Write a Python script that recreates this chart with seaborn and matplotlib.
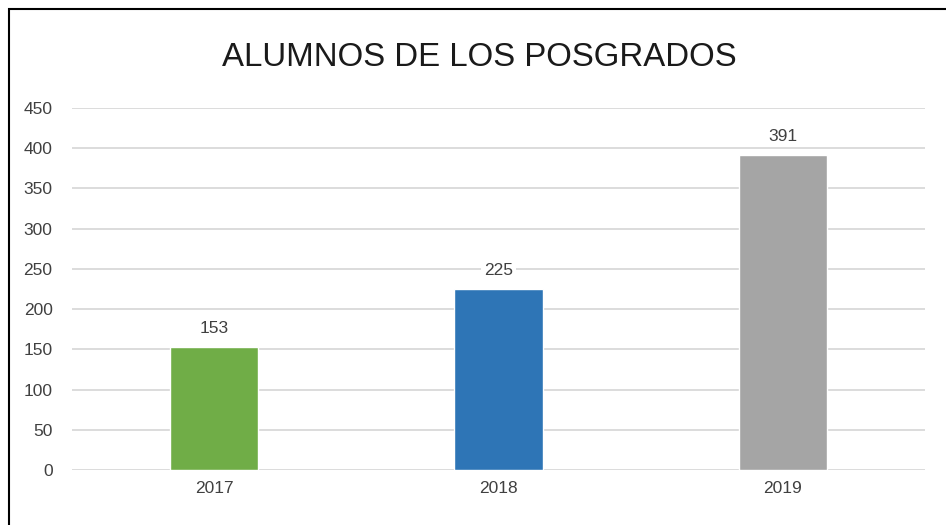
import numpy as np
import pandas as pd
import matplotlib
matplotlib.use('Agg')
import matplotlib.pyplot as plt
import seaborn as sns
from matplotlib.patches import Rectangle

# datos
anios = ['2017', '2018', '2019']
alumnos = [153, 225, 391]
colores = ['#70AD47', '#2E75B6', '#A5A5A5']
y_ticks = [0, 50, 100, 150, 200, 250, 300, 350, 400, 450]

df = pd.DataFrame({'anio': anios, 'alumnos': alumnos})

sns.set_theme(style='white')
plt.rcParams['font.family'] = ['Liberation Sans', 'DejaVu Sans']

fig = plt.figure(figsize=(9.46, 5.25), dpi=100)
ax = fig.add_axes([72 / 946, 55 / 525, (925 - 72) / 946, (470 - 108) / 525])

sns.barplot(data=df, x='anio', y='alumnos', hue='anio', palette=colores,
            width=0.31, legend=False, ax=ax, zorder=3, saturation=1)

ax.set_ylim(0, 450)
ax.set_yticks(y_ticks)
ax.yaxis.grid(True, color='#D9D9D9', linewidth=1.3, zorder=0)
ax.set_axisbelow(True)
for s in ax.spines.values():
    s.set_visible(False)
ax.tick_params(axis='both', length=0, labelsize=12.5, colors='#404040', pad=14)
ax.tick_params(axis='x', pad=8)
ax.set_xlabel('')
ax.set_ylabel('')

# etiquetas de datos
for i, v in enumerate(alumnos):
    ax.text(i, v + 14, str(v), ha='center', va='bottom', fontsize=12.5,
            color='#404040', zorder=4,
            bbox=dict(facecolor='white', edgecolor='none', pad=2))

fig.text(479.5 / 946, 1 - 57 / 525, 'ALUMNOS DE LOS POSGRADOS', ha='center', va='center',
         fontsize=23.8, color='#1a1a1a')

# borde de la imagen
fig.patches.append(Rectangle((9 / 946, -0.1), 1.2, 1 - 9 / 525 + 0.1,
                             transform=fig.transFigure, fill=False,
                             edgecolor='black', linewidth=1.5))

fig.savefig('out.png', dpi=100)
